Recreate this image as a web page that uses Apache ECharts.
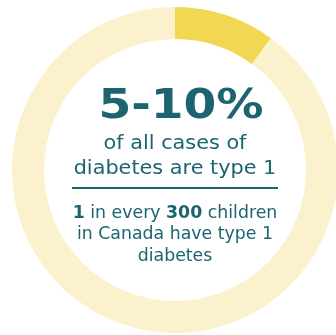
<!DOCTYPE html>
<html>
<head>
    <meta charset="utf-8">
    <title>type 1 diabetes</title>
    <script src="https://cdn.jsdelivr.net/npm/echarts@6/dist/echarts.min.js"></script>
    <style>
        html, body { margin: 0; padding: 0; background: #fff; }
    </style>
</head>
<body>
    <div id="main" style="width: 336px;height:335px;"></div>
    <script type="text/javascript">
        // share of all diabetes cases
        var sliceNames = ['Type 1', 'Other'];
        var sliceValues = [10, 90];
        var sliceColors = ['#F2D852', '#FBF1CC'];

        var headline = '5-10%';
        var subLines = ['of all cases of', 'diabetes are type 1'];
        var factLines = [
            [['b', '1'], ['n', ' in every '], ['b', '300'], ['n', ' children']],
            [['n', 'in Canada have type 1']],
            [['n', 'diabetes']]
        ];

        var teal = '#1B6470';
        var fontFam = 'DejaVu Sans, Verdana, sans-serif';
        var cx = 175, cy = 170;

        var myChart = echarts.init(document.getElementById('main'));

        var graphics = [];
        // big number (sits a bit right of centre in the original)
        graphics.push({
            type: 'text', x: cx + 6, y: 107.5, scaleX: 1.15, style: {
                text: headline, fill: teal, font: 'bold 41px ' + fontFam,
                align: 'center', verticalAlign: 'middle'
            }
        });
        subLines.forEach(function (t, i) {
            graphics.push({
                type: 'text', x: cx, y: 144 + i * 25, scaleX: 1.04, style: {
                    text: t, fill: teal, font: '20px ' + fontFam,
                    align: 'center', verticalAlign: 'middle'
                }
            });
        });
        graphics.push({
            type: 'line', shape: { x1: 72, y1: 188, x2: 278, y2: 188 },
            style: { stroke: teal, lineWidth: 2 }
        });
        factLines.forEach(function (parts, i) {
            var str = parts.map(function (p) {
                return '{' + p[0] + '|' + p[1] + '}';
            }).join('');
            graphics.push({
                type: 'text', x: cx, y: 213.5 + i * 21.5, scaleX: 1.02, style: {
                    text: str, align: 'center', verticalAlign: 'middle',
                    rich: {
                        n: { fill: teal, font: '17px ' + fontFam },
                        b: { fill: teal, font: 'bold 17px ' + fontFam }
                    }
                }
            });
        });

        var option = {
            animation: false,
            series: [{
                type: 'pie',
                center: [cx, cy],
                radius: [131, 163],
                startAngle: 90,
                clockwise: true,
                silent: true,
                label: { show: false },
                labelLine: { show: false },
                itemStyle: { borderWidth: 0 },
                data: sliceNames.map(function (n, i) {
                    return { name: n, value: sliceValues[i], itemStyle: { color: sliceColors[i] } };
                })
            }],
            graphic: graphics
        };
        myChart.setOption(option);
    </script>
</body>
</html>
